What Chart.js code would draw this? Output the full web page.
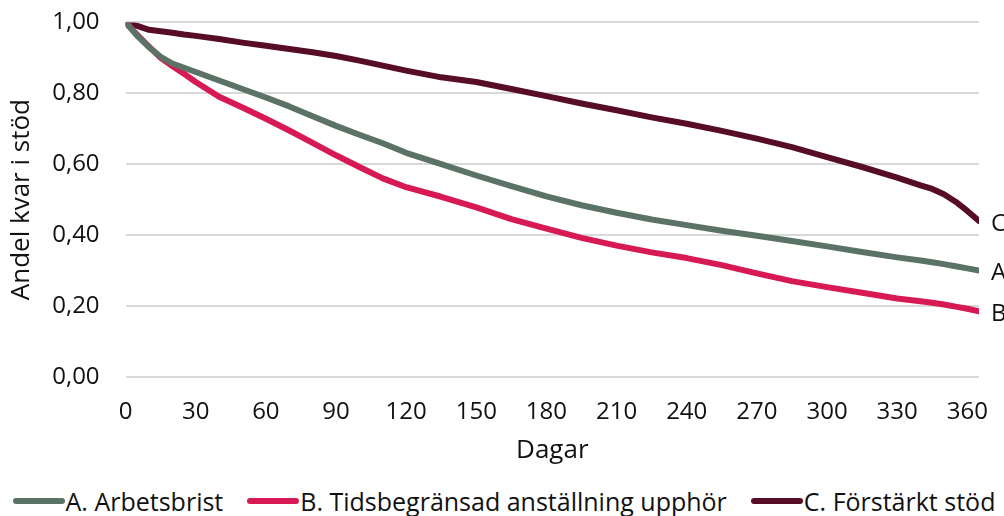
<!DOCTYPE html>
<html>
<head>
<meta charset="utf-8">
<script src="https://cdn.jsdelivr.net/npm/chart.js@4"></script>
<style>
  html, body { margin: 0; padding: 0; background: #fff; overflow: hidden; width: 1004px; height: 516px; }
  #wrap { width: 1004px; height: 484px; position: absolute; left: 0; top: -18px; }
  #legend {
    position: absolute; left: 4px; top: 486px; width: 1000px; height: 30px; line-height: 30px;
    display: flex; justify-content: center; align-items: center; gap: 24px; overflow: hidden;
    font-family: "Open Sans", sans-serif; font-size: 25px; color: #111; white-space: nowrap;
  }
  #legend .item { display: flex; align-items: center; }
  #legend .swatch { width: 52px; height: 6px; border-radius: 3px; margin-right: 1px; }
</style>
</head>
<body>
<div id="wrap"><canvas id="chart"></canvas></div>
<div id="legend"></div>
<script>
'use strict';

// Days since start of support
const days = [0, 5, 10, 15, 20, 25, 30, 40, 50, 60, 70, 80, 90, 100, 110, 120, 135, 150, 165, 180,
  195, 210, 225, 240, 255, 270, 285, 300, 315, 330, 340, 345, 350, 355, 360, 365];

// Share still in support, per group
const arbetsbrist = [1.0, 0.962, 0.93, 0.903, 0.884, 0.872, 0.86, 0.836, 0.812, 0.788, 0.763, 0.735, 0.708,
  0.683, 0.659, 0.632, 0.6, 0.568, 0.538, 0.509, 0.484, 0.463, 0.444, 0.428, 0.412, 0.398, 0.383, 0.368,
  0.352, 0.337, 0.328, 0.323, 0.318, 0.312, 0.306, 0.3];
const tidsbegransad = [1.0, 0.965, 0.932, 0.9, 0.877, 0.855, 0.832, 0.79, 0.76, 0.728, 0.695, 0.66, 0.625,
  0.592, 0.56, 0.535, 0.508, 0.478, 0.445, 0.418, 0.392, 0.37, 0.351, 0.335, 0.315, 0.292, 0.27, 0.253,
  0.237, 0.221, 0.213, 0.209, 0.204, 0.198, 0.192, 0.185];
const forstarkt = [1.0, 0.99, 0.979, 0.975, 0.971, 0.966, 0.962, 0.953, 0.943, 0.934, 0.925, 0.916, 0.905,
  0.892, 0.878, 0.864, 0.845, 0.832, 0.812, 0.792, 0.771, 0.752, 0.732, 0.714, 0.694, 0.672, 0.648, 0.62,
  0.592, 0.562, 0.54, 0.53, 0.515, 0.494, 0.468, 0.44];

const seriesNames = ['A. Arbetsbrist', 'B. Tidsbegränsad anställning upphör', 'C. Förstärkt stöd'];
const endLabels = ['A', 'B', 'C'];
const colors = ['#5b7366', '#d81a54', '#570d27'];

const FONT = '"Open Sans", sans-serif';
const TEXT = '#111';

function toPoints(values) {
  return values.map((v, i) => ({ x: days[i], y: v }));
}

const datasets = [arbetsbrist, tidsbegransad, forstarkt].map((vals, i) => ({
  label: seriesNames[i],
  data: toPoints(vals),
  borderColor: colors[i],
  backgroundColor: colors[i],
  borderWidth: 6,
  borderCapStyle: 'round',
  borderJoinStyle: 'round',
  pointRadius: 0,
  tension: 0,
}));

// Single-letter tags at the end of each line
const endLabelPlugin = {
  id: 'endLabels',
  afterDatasetsDraw(chart) {
    const ctx = chart.ctx;
    ctx.save();
    ctx.font = '24px ' + FONT;
    ctx.fillStyle = TEXT;
    ctx.textBaseline = 'middle';
    chart.data.datasets.forEach((ds, i) => {
      const pts = chart.getDatasetMeta(i).data;
      const last = pts[pts.length - 1];
      ctx.fillText(endLabels[i], last.x + 12, last.y + 3);
    });
    ctx.restore();
  },
};

// Day tick labels, placed from the x scale's own ticks, a fixed gap under the 0-line
const xTickPlugin = {
  id: 'xTickLabels',
  afterDraw(chart) {
    const xs = chart.scales.x;
    const y0 = chart.scales.y.getPixelForValue(0) + 35;
    const ctx = chart.ctx;
    ctx.save();
    ctx.font = '24px ' + FONT;
    ctx.fillStyle = TEXT;
    ctx.textAlign = 'center';
    ctx.textBaseline = 'middle';
    xs.ticks.forEach(t => {
      ctx.fillText(String(t.value), xs.getPixelForValue(t.value), y0);
    });
    ctx.restore();
  },
};

new Chart(document.getElementById('chart'), {
  type: 'line',
  data: { datasets },
  plugins: [endLabelPlugin, xTickPlugin],
  options: {
    responsive: true,
    maintainAspectRatio: false,
    animation: false,
    layout: { padding: { top: 0, right: 25, left: 6, bottom: 0 } },
    plugins: {
      tooltip: { enabled: false },
      legend: { display: false },
    },
    scales: {
      x: {
        type: 'linear',
        min: 0,
        max: 365,
        grid: { display: false, drawTicks: false },
        border: { display: false },
        ticks: {
          display: false,
          stepSize: 30,
          includeBounds: false,
        },
        title: {
          display: true,
          text: 'Dagar',
          color: TEXT,
          padding: { top: 58, bottom: 0 },
          font: { family: FONT, size: 26 },
        },
      },
      y: {
        min: 0,
        max: 1,
        grid: { color: '#d9d9d9', lineWidth: 2, drawTicks: false },
        border: { display: false },
        ticks: {
          stepSize: 0.2,
          padding: 26,
          color: TEXT,
          font: { family: FONT, size: 24 },
          callback: v => v.toFixed(2).replace('.', ','),
        },
        title: {
          display: true,
          text: 'Andel kvar i stöd',
          color: TEXT,
          padding: { top: 0, bottom: -11 },
          font: { family: FONT, size: 26 },
        },
      },
    },
  },
});

// Legend built from the same series names and colours
const legendEl = document.getElementById('legend');
seriesNames.forEach((name, i) => {
  const item = document.createElement('div');
  item.className = 'item';
  const sw = document.createElement('span');
  sw.className = 'swatch';
  sw.style.background = colors[i];
  const txt = document.createElement('span');
  txt.textContent = name;
  item.appendChild(sw);
  item.appendChild(txt);
  legendEl.appendChild(item);
});
</script>
</body>
</html>
